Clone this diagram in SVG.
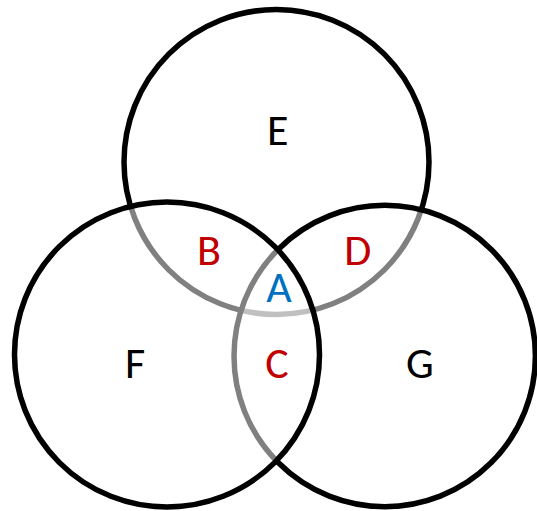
<svg xmlns="http://www.w3.org/2000/svg" width="537" height="511" viewBox="0 0 537 511">
<style>
.c{fill:#fff;fill-opacity:0.5;stroke:#000;stroke-width:5.5}
.t{font-family:Carlito,"Open Sans","Liberation Sans",sans-serif;font-size:44px;text-anchor:middle}
.k{fill:#000}.r{fill:#C00000}.b{fill:#0070C0}
</style>
<rect width="537" height="511" fill="#fff"/>
<g id="E"><circle class="c" cx="276.5" cy="162" r="152.5"/></g>
<g id="G"><circle class="c" cx="384.7" cy="356" r="150.7"/></g>
<g id="F"><circle class="c" cx="167" cy="354.5" r="152.5"/></g>
<g id="labels">
<text class="t k" x="277.7" y="145">E</text>
<text class="t r" x="209" y="265">B</text>
<text class="t r" x="357.7" y="265">D</text>
<text class="t b" x="279" y="302">A</text>
<text class="t k" x="135" y="378">F</text>
<text class="t r" x="277" y="378">C</text>
<text class="t k" x="420" y="378">G</text>
</g>
</svg>
